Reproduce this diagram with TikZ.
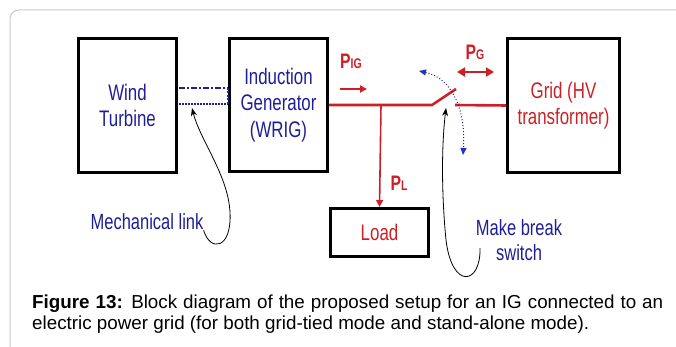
\documentclass[tikz,border=0pt]{standalone}
\usepackage{fontspec}
\setmainfont{Liberation Sans}
\newfontfamily\diagfont[FakeStretch=0.75]{Liberation Sans}
\usepackage{xcolor}
\usetikzlibrary{arrows.meta,positioning,calc}
\definecolor{navytext}{RGB}{30,30,150}
\definecolor{powerred}{RGB}{205,32,38}
\definecolor{swblue}{RGB}{30,50,205}
\definecolor{framegray}{RGB}{200,200,200}

\begin{document}
\begin{tikzpicture}[x=1pt,y=-1pt,
	block/.style={draw,line width=3pt,inner sep=0pt,align=center,font=\diagfont\fontsize{22.5}{26.5}\selectfont},
	tag/.style={inner sep=0pt,align=center,font=\diagfont\fontsize{22}{25}\selectfont},
	power/.style={powerred,line width=2.6pt},
	flow/.style={powerred,line width=2pt,-{Triangle[length=7pt,width=7pt]}},
	pow/.style={inner sep=0pt,text=powerred,font=\diagfont\bfseries\fontsize{21}{21}\selectfont}]
	\useasboundingbox (0,0) rectangle (676,347);
	\clip (0,0) rectangle (676,347);
	
	\draw[framegray,line width=1pt,rounded corners=9pt] (10,10) rectangle (720,400);
	
	\node[block,minimum width=98pt,minimum height=134pt,text=navytext] (turbine) at (127.5,105.5) {Wind\\Turbine};
	\node[block,minimum width=98pt,minimum height=133pt,text=navytext] (gen) at (278.5,105) {Induction\\Generator\\(WRIG)};
	\node[block,minimum width=112pt,minimum height=134pt,text=powerred] (grid) at (563.5,105.5) {Grid (HV\\transformer)};
	\node[block,minimum width=98pt,minimum height=48pt,text=powerred] (load) at (379.5,232.5) {Load};
	
	\coordinate (shA) at (179,88);
	\coordinate (shB) at (228,88);
	\coordinate (shC) at (179,104);
	\coordinate (shD) at (228,104);
	\draw[navytext,line width=1.4pt,dash pattern=on 6pt off 2pt on 2pt off 2pt] (shA) -- (shB);
	\draw[navytext,line width=1.2pt,dash pattern=on 2pt off 1.5pt] (shB) -- (shD);
	\draw[navytext,line width=2pt,dash pattern=on 2pt off 1pt] (shC) -- (shD);
	
	\coordinate (tee) at (381,105);
	\coordinate (swA) at (432,105);
	\coordinate (swB) at (456,89);
	\coordinate (swC) at (455,105);
	\draw[power] (gen.east) -- (swA) -- (swB);
	\draw[power] (swC) -- (grid.west);
	\draw[flow,line width=1.6pt] (tee) -- (load.north);
	
	\coordinate (pigA) at (340,89);
	\coordinate (pigB) at (367,89);
	\draw[flow] (pigA) -- (pigB);
	\coordinate (pgA) at (457,72);
	\coordinate (pgB) at (494,72);
	\draw[powerred,line width=2.6pt,{Triangle[length=8pt,width=9pt]}-{Triangle[length=8pt,width=9pt]}] (pgA) -- (pgB);
	
	\node[pow] (pig) at (351,61) {P{\fontsize{14}{14}\selectfont IG}};
	\node[pow] (pg) at (475,52) {P{\fontsize{14}{14}\selectfont G}};
	\node[pow] (pl) at (399,183) {P{\fontsize{14}{14}\selectfont L}};
	
	\coordinate (arcA) at (419,71);
	\coordinate (arcB) at (463,155);
	\draw[navytext,line width=1pt,dotted,{Triangle[length=7pt,width=6pt,color=swblue]}-{Triangle[length=7pt,width=6pt,color=swblue]}] (arcA) .. controls (452,78) and (466,110) .. (arcB);
	
	\node[tag,text=navytext] (mech) at (147,222) {Mechanical link};
	\coordinate (mechTip) at (192,108);
	\draw[line width=0.8pt,-{Stealth[length=8pt,width=6pt]}] (mech.south east) .. controls (210,252) and (232,250) .. (230,212) .. controls (228,175) and (200,140) .. (mechTip);
	
	\node[tag,text=navytext] (mbs) at (519,240) {Make break\\switch};
	\coordinate (mbsTail) at (480,248);
	\coordinate (swTip) at (446,108);
	\draw[line width=0.8pt,-{Stealth[length=8pt,width=6pt]}] (mbsTail) .. controls (481,285) and (452,290) .. (446,240) .. controls (442,200) and (441,150) .. (swTip);
	
	\node[anchor=north west,inner sep=0pt,text width=631pt,align=justify,font=\fontsize{18.8}{21}\selectfont] (caption) at (32,295) {\hyphenpenalty=10000\textbf{Figure 13:} Block diagram of the proposed setup for an IG connected to an electric power grid (for both grid-tied mode and stand-alone mode).};
\end{tikzpicture}
\end{document}
